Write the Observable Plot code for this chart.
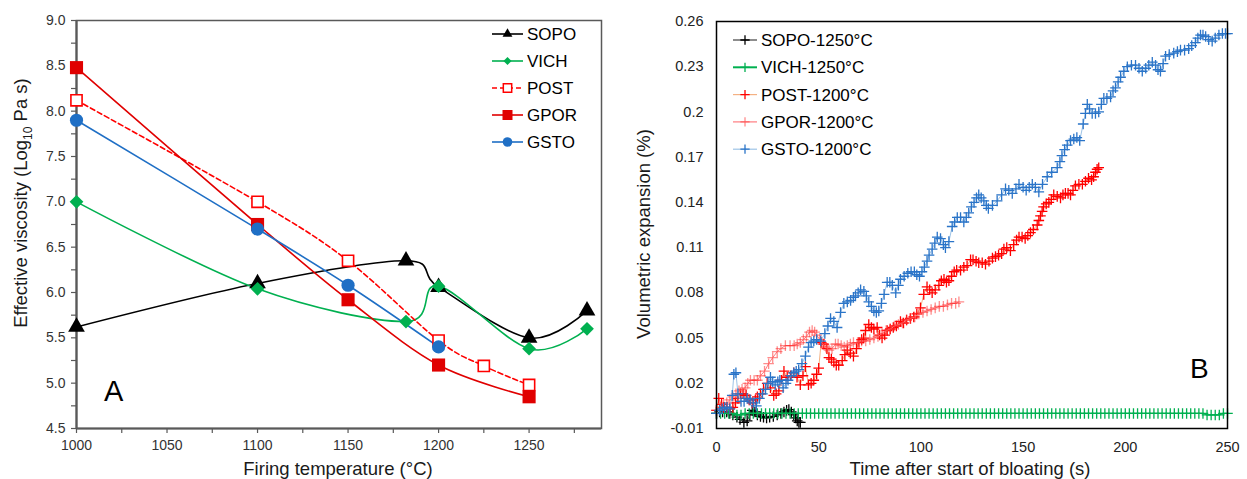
<!DOCTYPE html>
<html><head><meta charset="utf-8">
<script src="https://cdn.jsdelivr.net/npm/d3@7"></script>
<script src="https://cdn.jsdelivr.net/npm/@observablehq/plot@0.6"></script>
<style>
body{margin:0;background:#fff;font-family:"Liberation Sans",Arial,sans-serif;}
#wrap{display:flex;width:1247px;height:479px;}
#wrap svg{flex:none;}
</style></head><body><div id="wrap"></div>
<script>
// ---------- Panel A: effective viscosity vs firing temperature ----------
const seriesNamesA = ["SOPO","VICH","POST","GPOR","GSTO"];
const tempSOPO = [1000,1100,1182,1200,1250,1282];
const viscSOPO = [5.62,6.10,6.35,6.06,5.50,5.80];
const tempVICH = [1000,1100,1182,1200,1250,1282];
const viscVICH = [7.00,6.04,5.68,6.07,5.38,5.60];
const tempPOST = [1000,1100,1150,1200,1225,1250];
const viscPOST = [8.12,7.00,6.35,5.47,5.19,4.98];
const tempGPOR = [1000,1100,1150,1200,1250];
const viscGPOR = [8.48,6.75,5.92,5.20,4.85];
const tempGSTO = [1000,1100,1150,1200];
const viscGSTO = [7.90,6.70,6.08,5.40];
const xTicksA = [1000,1050,1100,1150,1200,1250];
const xMinorA = [1000,1025,1050,1075,1100,1125,1150,1175,1200,1225,1250,1275];
const yTicksA = [4.5,5.0,5.5,6.0,6.5,7.0,7.5,8.0,8.5,9.0];
const yMinorA = [4.5,4.75,5.0,5.25,5.5,5.75,6.0,6.25,6.5,6.75,7.0,7.25,7.5,7.75,8.0,8.25,8.5,8.75,9.0];

// ---------- Panel B: volumetric expansion vs time (t [s], value [%]) ----------
const seriesNamesB = ["SOPO-1250°C","VICH-1250°C","POST-1200°C","GPOR-1200°C","GSTO-1200°C"];
const sopo1250 = [[0,0],[1.5,0.001],[3,0.001],[5,0.001],[6.5,0],[8,-0.001],[10,-0.0025],[11.5,-0.004],[13.4,-0.006],[15,-0.005],[16.3,-0.001],[17.5,0.002],[18.8,0.001],[20,-0.001],[21.5,-0.002],[23,-0.0025],[24.5,-0.003],[26,-0.0025],[27.8,-0.002],[29.7,-0.001],[31.5,0],[33,0.001],[34.3,0.002],[35.4,0.0025],[36.6,0.001],[37.8,-0.001],[38.7,-0.003],[39.5,-0.005],[40.3,-0.006],[41,-0.006]];
const vich1250 = [[0,0],[2,0],[4,0],[6,0],[8,0],[10,-0.001],[12,-0.001],[14,0],[16,0],[18,0],
[20,0],[22,0],[24,0],[26,0],[28,0],[30,0],[32,0],[34,0],[36,0],[38,0],
[40,0],[42,0],[44,0],[46,0],[48,0],[50,0],[52,0],[54,0],[56,0],[58,0],
[60,0],[62,0],[64,0],[66,0],[68,0],[70,0],[72,0],[74,0],[76,0],[78,0],
[80,0],[82,0],[84,0],[86,0],[88,0],[90,0],[92,0],[94,0],[96,0],[98,0],
[100,0],[102,0],[104,0],[106,0],[108,0],[110,0],[112,0],[114,0],[116,0],[118,0],
[120,0],[122,0],[124,0],[126,0],[128,0],[130,0],[132,0],[134,0],[136,0],[138,0],
[140,0],[142,0],[144,0],[146,0],[148,0],[150,0],[152,0],[154,0],[156,0],[158,0],
[160,0],[162,0],[164,0],[166,0],[168,0],[170,0],[172,0],[174,0],[176,0],[178,0],
[180,0],[182,0],[184,0],[186,0],[188,0],[190,0],[192,0],[194,0],[196,0],[198,0],
[200,0],[202,0],[204,0],[206,0],[208,0],[210,0],[212,0],[214,0],[216,0],[218,0],
[220,0],[222,0],[224,0],[226,0],[228,0],[230,0],[232,0],[234,0],[236,0],[238,0],
[240,-0.001],[242,-0.001],[244,-0.001],[246,-0.001],[248,0],[250,0]];
const post1200 = [[0,0.002],[1.1,0.010],[2.5,0.006],[3.5,0.004],[5,0.004],[6.5,0.003],[8,0.004],[9.3,0.007],[10.5,0.010],[11.7,0.013],[13,0.013],[14.5,0.012],[16,0.009],[17.5,0.007],[19,0.009],[20,0.011],[21.5,0.013],[23,0.016],[24.8,0.020],[26.4,0.017],[28,0.012],[29.2,0.013],[30.5,0.015],[31.8,0.022],[33,0.028],[34.6,0.024],[36.2,0.025],[37.8,0.027],[39.4,0.024],[41,0.019],[42.3,0.025],[43.5,0.031],[45,0.019],[46.3,0.020],[47.6,0.022],[49,0.026],[50,0.030],[51.2,0.047],[52.5,0.046],[54,0.043],[55,0.037],[56.2,0.036],[57.4,0.034],[58.6,0.032],[59.8,0.032],[61.5,0.035],[62.8,0.039],[64,0.042],[65.5,0.040],[67,0.038],[68.5,0.043],[69.7,0.047],[71,0.049],[72,0.050],[72.9,0.055],[74.5,0.059],[75.8,0.057],[77,0.056],[78.6,0.057],[79.8,0.052],[81,0.050],[82.3,0.052],[83.5,0.055],[85,0.056],[86.5,0.057],[88,0.058],[90,0.061],[91.5,0.060],[93,0.062],[94.8,0.063],[96.5,0.064],[98,0.066],[99.8,0.070],[101.4,0.079],[103,0.084],[104.3,0.082],[105.5,0.080],[107,0.082],[108.8,0.085],[110,0.088],[111.3,0.089],[112.5,0.087],[113.7,0.088],[115,0.091],[116.3,0.094],[117.5,0.095],[119.4,0.095],[121,0.097],[122.6,0.098],[124.3,0.102],[125.5,0.102],[127,0.101],[128.3,0.100],[130,0.100],[131.6,0.099],[133.3,0.101],[135,0.103],[136.5,0.104],[138,0.105],[139.5,0.106],[140.6,0.109],[142,0.110],[143.8,0.108],[145.4,0.112],[146.8,0.115],[148,0.117],[149.5,0.117],[151,0.116],[152.3,0.118],[153.6,0.120],[155,0.122],[156.9,0.125],[157.7,0.128],[158.5,0.131],[159.3,0.134],[160,0.137],[161.3,0.139],[162.6,0.140],[163.8,0.142],[165,0.145],[166.7,0.144],[168.3,0.143],[169.5,0.145],[170.7,0.146],[172,0.146],[173.2,0.145],[174.4,0.148],[175.6,0.151],[177.3,0.152],[179,0.152],[180.5,0.154],[182,0.156],[183.5,0.155],[184.5,0.157],[185.4,0.160],[186.2,0.162],[187,0.163]];
const gpor1200 = [[0,0.002],[2,0.004],[3.5,0.006],[5,0.007],[6.5,0.009],[8,0.011],[9.5,0.013],[11,0.015],[12.5,0.016],[14,0.017],[15.3,0.020],[16.6,0.022],[18.4,0.022],[20,0.022],[21.5,0.025],[23.5,0.028],[25.5,0.033],[27.5,0.037],[29.7,0.041],[31.5,0.043],[33.7,0.045],[36,0.045],[38,0.045],[39.5,0.046],[41,0.047],[42.5,0.049],[44,0.051],[45.5,0.054],[46.8,0.055],[48,0.054],[49,0.052],[50.5,0.049],[52,0.046],[53.5,0.044],[55,0.042],[56.5,0.043],[58.2,0.046],[59.5,0.046],[61,0.045],[62.5,0.044],[64,0.045],[65.5,0.046],[67,0.047],[69,0.047],[71,0.048],[73,0.048],[75,0.049],[77,0.050],[79,0.051],[81,0.053],[83,0.055],[85,0.056],[87,0.058],[89,0.059],[91,0.060],[93,0.062],[95,0.063],[97,0.064],[99,0.066],[101,0.067],[103,0.068],[105,0.069],[107,0.070],[109,0.071],[111,0.071],[113,0.072],[115,0.073],[117,0.073],[118.6,0.074]];
const gsto1200 = [[0,0],[1.5,0.002],[2.8,0.003],[4,0.004],[5.2,0.004],[6.5,0.003],[7.7,0.012],[8.5,0.026],[9.5,0.027],[10.5,0.013],[12,0.008],[13.5,0.008],[15,0.010],[16.5,0.009],[18,0.007],[19.5,0.005],[21,0.010],[22.5,0.013],[24,0.016],[25.2,0.020],[26.4,0.024],[27.5,0.021],[28.7,0.019],[30,0.021],[31,0.022],[32.6,0.017],[34,0.020],[35,0.022],[36.5,0.025],[37.8,0.027],[39,0.028],[40.2,0.029],[41.8,0.033],[43.5,0.038],[45,0.044],[46.3,0.047],[47.6,0.048],[49,0.049],[51,0.048],[53,0.053],[54.5,0.058],[55.8,0.063],[57.4,0.061],[59,0.057],[60.7,0.067],[62.3,0.073],[64,0.074],[65.6,0.075],[67,0.077],[68,0.078],[69.3,0.080],[70.5,0.082],[72.1,0.081],[73.3,0.078],[74.5,0.074],[75.8,0.071],[77,0.068],[78.2,0.067],[79.4,0.068],[80.7,0.073],[82,0.079],[83.5,0.087],[84.8,0.087],[86,0.085],[87.7,0.080],[89,0.085],[90,0.089],[91.8,0.091],[93.6,0.093],[95.2,0.094],[96.8,0.094],[98,0.092],[99.3,0.091],[100.5,0.094],[101.7,0.097],[103,0.101],[104,0.105],[105.5,0.109],[106.8,0.113],[108,0.117],[109.6,0.116],[111,0.112],[112,0.110],[113.7,0.114],[115.3,0.124],[116.5,0.127],[117.8,0.130],[119.4,0.130],[121,0.127],[122.2,0.130],[123.4,0.133],[124.7,0.137],[126,0.140],[127.2,0.143],[128.3,0.145],[129.5,0.143],[130.8,0.141],[132,0.138],[133,0.136],[135,0.138],[137.3,0.141],[139.5,0.145],[141.4,0.149],[143,0.148],[144.7,0.146],[146.5,0.149],[148,0.152],[150,0.150],[151.5,0.148],[153,0.150],[154.5,0.152],[156,0.150],[157.7,0.147],[159.5,0.152],[161.8,0.157],[164,0.160],[166.7,0.163],[168,0.167],[169,0.171],[170.3,0.175],[171.6,0.178],[173.2,0.181],[174.8,0.182],[176.3,0.183],[177.7,0.181],[179.4,0.192],[180.5,0.199],[181.4,0.205],[182.5,0.202],[183.8,0.199],[185.4,0.199],[187,0.200],[188.3,0.205],[189.5,0.209],[191,0.209],[192.8,0.210],[194,0.214],[195.2,0.216],[196.5,0.220],[197.7,0.223],[199.3,0.227],[201,0.230],[203,0.231],[205,0.231],[206.7,0.229],[208.3,0.227],[210,0.229],[211.5,0.231],[213.2,0.233],[214.8,0.231],[216,0.228],[217.2,0.227],[218.5,0.232],[219.7,0.237],[221.5,0.238],[223.7,0.239],[225.5,0.240],[227,0.241],[229,0.241],[231,0.242],[232.5,0.244],[234.3,0.246],[235.5,0.249],[236.8,0.251],[238,0.251],[239.3,0.250],[240.8,0.248],[242.5,0.247],[244,0.249],[245.8,0.251],[247.5,0.252],[249,0.252],[250,0.252]];
const xTicksB = [0,50,100,150,200,250];
const yTicksB = [-0.01,0.02,0.05,0.08,0.11,0.14,0.17,0.2,0.23,0.26];

// ---------- build ----------
const FONT = "'Liberation Sans', Arial, sans-serif";
const GREEN = "#00b050", RED = "#e00000", BLUE = "#1f6fc5", BRED = "#ff0000";
const rows = (ts, vs) => ts.map((t, i) => ({t, v: vs[i]}));
const pairs = arr => arr.map(([t, v]) => ({t, v}));

const A = {
  SOPO: rows(tempSOPO, viscSOPO), VICH: rows(tempVICH, viscVICH),
  POST: rows(tempPOST, viscPOST), GPOR: rows(tempGPOR, viscGPOR), GSTO: rows(tempGSTO, viscGSTO)
};
const styleA = {
  SOPO: {stroke: "#000", symbol: "triangle", fill: "#000", r: 6.2, legSym: d3.symbolTriangle, legSize: 42},
  VICH: {stroke: GREEN, symbol: "diamond2", fill: GREEN, r: 6.2, legSym: d3.symbolDiamond2, legSize: 42},
  POST: {stroke: BRED, symbol: "square", fill: "white", r: 6.3, dash: "5,3", open: true, legSym: d3.symbolSquare, legSize: 70},
  GPOR: {stroke: RED, symbol: "square", fill: RED, r: 7.4, legSym: d3.symbolSquare, legSize: 100},
  GSTO: {stroke: BLUE, symbol: "circle", fill: BLUE, r: 6.6, legSym: d3.symbolCircle, legSize: 72}
};

const marksA = [
  Plot.frame({stroke: "#595959", strokeWidth: 1.5}),
  Plot.axisX({ticks: xMinorA, tickSize: 5, tickFormat: () => "", label: null, stroke: "#595959", strokeWidth: 1.2}),
  Plot.axisX({ticks: xTicksA, tickSize: 0, tickPadding: 12, tickFormat: d => String(d), label: null, fontSize: 14}),
  Plot.axisY({ticks: yMinorA, tickSize: 5, tickFormat: () => "", label: null, stroke: "#595959", strokeWidth: 1.2}),
  Plot.axisY({ticks: yTicksA, tickSize: 0, tickPadding: 11, tickFormat: d3.format(".1f"), label: null, fontSize: 14}),
  Plot.ruleX([1000], {stroke: "#595959", strokeWidth: 2.2}),
  Plot.ruleY([4.5], {stroke: "#595959", strokeWidth: 2.2})
];
for (const name of seriesNamesA) {
  const s = styleA[name];
  marksA.push(Plot.line(A[name], {x: "t", y: "v", stroke: s.stroke, strokeWidth: 1.6, curve: "cardinal", strokeDasharray: s.dash}));
}
for (const name of seriesNamesA) {
  const s = styleA[name];
  marksA.push(Plot.dot(A[name], {x: "t", y: "v", symbol: s.symbol, r: s.r, fill: s.fill,
    stroke: s.open ? s.stroke : "none", strokeWidth: s.open ? 1.6 : 0}));
}

const plotA = Plot.plot({
  width: 620, height: 479,
  marginLeft: 76, marginRight: 19, marginTop: 20, marginBottom: 51,
  x: {domain: [1000, 1290]},
  y: {domain: [4.5, 9.0]},
  style: {fontFamily: FONT, fontSize: "14px", color: "#333", background: "white", overflow: "visible"},
  marks: marksA
});

const B = {"SOPO-1250°C": pairs(sopo1250), "VICH-1250°C": pairs(vich1250), "POST-1200°C": pairs(post1200),
           "GPOR-1200°C": pairs(gpor1200), "GSTO-1200°C": pairs(gsto1200)};
const styleB = {
  "SOPO-1250°C": {line: "#404040", mark: "#000", op: 1},
  "VICH-1250°C": {line: GREEN, mark: GREEN, op: 1, lw: 2},
  "POST-1200°C": {line: "#f4b183", mark: BRED, op: 1},
  "GPOR-1200°C": {line: "#ff7c80", mark: "#ff3030", op: 0.55},
  "GSTO-1200°C": {line: "#9dc3e6", mark: "#2a74c8", op: 1}
};
const marksB = [
  Plot.axisX({ticks: xTicksB, tickSize: 0, tickPadding: 13, tickFormat: d => String(d), label: null, fontSize: 14.5}),
  Plot.axisY({ticks: yTicksB, tickSize: 0, tickPadding: 13, tickFormat: d => String(Math.round(d * 100) / 100), label: null, fontSize: 14.5})
];
for (const name of seriesNamesB) {
  const s = styleB[name];
  marksB.push(Plot.line(B[name], {x: "t", y: "v", stroke: s.line, strokeWidth: 1}));
  marksB.push(Plot.dot(B[name], {x: "t", y: "v", symbol: "plus", r: 3.5, stroke: s.mark, strokeWidth: 1.3, strokeOpacity: s.op}));
}
marksB.push(Plot.frame({stroke: "#000", strokeWidth: 1.5}));

const plotB = Plot.plot({
  width: 627, height: 479,
  marginLeft: 96, marginRight: 20, marginTop: 21, marginBottom: 51,
  x: {domain: [0, 250]},
  y: {domain: [-0.01, 0.26]},
  style: {fontFamily: FONT, fontSize: "14.5px", color: "#222", background: "white", overflow: "visible"},
  marks: marksB
});

const wrap = document.getElementById("wrap");
wrap.appendChild(plotA);
wrap.appendChild(plotB);

// ---------- titles, panel letters and legends ----------
function addText(svg, x, y, str, size, opts = {}) {
  return d3.select(svg).append("text").attr("x", x).attr("y", y)
    .attr("font-family", FONT).attr("font-size", size).attr("fill", opts.fill || "#1a1a1a")
    .attr("text-anchor", opts.anchor || "start")
    .attr("transform", opts.rotate ? `rotate(-90 ${x} ${y})` : null)
    .text(str);
}
// Panel A titles
addText(plotA, 338, 475, "Firing temperature (°C)", 18.5, {anchor: "middle"});
{
  const t = d3.select(plotA).append("text").attr("x", 27).attr("y", 203)
    .attr("font-family", FONT).attr("font-size", 18.5).attr("fill", "#1a1a1a")
    .attr("text-anchor", "middle").attr("transform", "rotate(-90 27 203)");
  t.append("tspan").text("Effective viscosity (Log");
  t.append("tspan").attr("font-size", 12).attr("dy", 5).text("10");
  t.append("tspan").attr("dy", -5).text(" Pa s)");
}
addText(plotA, 104, 401, "A", 29, {fill: "#000"});
// Panel A legend
{
  const g = d3.select(plotA).append("g").attr("text-anchor", "start");
  seriesNamesA.forEach((name, i) => {
    const s = styleA[name], y = 34 + i * 27;
    g.append("line").attr("x1", 492).attr("x2", 523).attr("y1", y).attr("y2", y)
      .attr("stroke", s.stroke).attr("stroke-width", 1.6).attr("stroke-dasharray", s.dash || null);
    g.append("path").attr("d", d3.symbol(s.legSym, s.legSize)())
      .attr("transform", `translate(507.5,${y})`)
      .attr("fill", s.fill).attr("stroke", s.open ? s.stroke : "none").attr("stroke-width", 1.5);
    g.append("text").attr("x", 527).attr("y", y + 6).attr("font-family", FONT)
      .attr("text-anchor", "start").attr("font-size", 17).attr("fill", "#000").text(name);
  });
}
// Panel B titles (panel B svg starts at page x=620)
addText(plotB, 350, 475, "Time after start of bloating (s)", 18.5, {anchor: "middle"});
addText(plotB, 30, 234, "Volumetric expansion (%)", 18.5, {anchor: "middle", rotate: true});
addText(plotB, 570, 378, "B", 28, {fill: "#000"});
{
  const g = d3.select(plotB).append("g").attr("text-anchor", "start");
  seriesNamesB.forEach((name, i) => {
    const s = styleB[name], y = 40 + i * 27.3;
    g.append("line").attr("x1", 113).attr("x2", 137).attr("y1", y).attr("y2", y)
      .attr("stroke", s.line).attr("stroke-width", s.lw || 1.2);
    g.append("path").attr("d", d3.symbol(d3.symbolPlus, 30)())
      .attr("transform", `translate(125,${y})`).attr("fill", "none")
      .attr("stroke", s.mark).attr("stroke-opacity", s.op).attr("stroke-width", 1.3);
    g.append("text").attr("x", 141).attr("y", y + 6).attr("font-family", FONT)
      .attr("text-anchor", "start").attr("font-size", 17).attr("fill", "#000").text(name);
  });
}
</script></body></html>
